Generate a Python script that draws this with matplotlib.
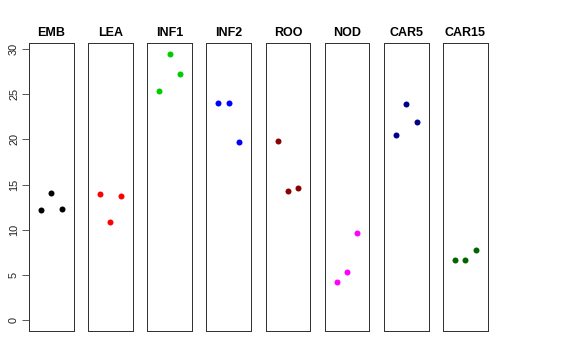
import matplotlib
matplotlib.use("Agg")
import matplotlib.pyplot as plt

plt.rcParams['font.family'] = ['Liberation Sans', 'DejaVu Sans']

# data
groups = ['EMB', 'LEA', 'INF1', 'INF2', 'ROO', 'NOD', 'CAR5', 'CAR15']
colors = ['black', 'red', '#00CD00', 'blue', '#8B0000', 'magenta', '#00008B', '#006400']
reps = [1, 2, 3]
emb = [12.17, 14.05, 12.31]
lea = [13.97, 10.91, 13.75]
inf1 = [25.33, 29.46, 27.17]
inf2 = [23.96, 23.96, 19.72]
roo = [19.86, 14.26, 14.63]
nod = [4.27, 5.38, 9.69]
car5 = [20.45, 23.92, 21.96]
car15 = [6.71, 6.71, 7.81]
values = [emb, lea, inf1, inf2, roo, nod, car5, car15]
yticks = [0, 5, 10, 15, 20, 25, 30]

W, H = 576, 360
fig = plt.figure(figsize=(W / 72, H / 72), dpi=72)

ymax = max(max(v) for v in values)
ext = ymax * 0.04

for i, (name, col, vals) in enumerate(zip(groups, colors, values)):
    left = 29 + i * 59.14
    ax = fig.add_axes([left / W, 29 / H, 44.7 / W, 288 / H])
    ax.scatter(reps, vals, s=36, color=col, zorder=3, linewidths=0)
    ax.set_xlim(-0.16, 4.16)
    ax.set_ylim(-ext, ymax + ext)
    ax.set_xticks([])
    ax.set_title(name, fontsize=12.5, fontweight='bold', pad=7)
    for sp in ax.spines.values():
        sp.set_color('#333333')
        sp.set_linewidth(1)
    if i == 0:
        ax.set_yticks(yticks)
        ax.tick_params(axis='y', length=7, width=0.8, pad=3, labelsize=11,
                       labelcolor='#222222', color='#333333')
        for lab in ax.get_yticklabels():
            lab.set_rotation(90)
            lab.set_va('center')
    else:
        ax.set_yticks([])

fig.savefig('out.png', dpi=72)
